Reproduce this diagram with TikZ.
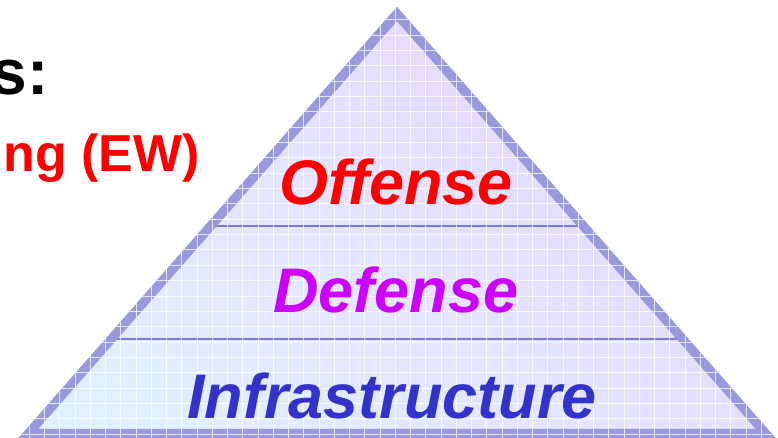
\documentclass[tikz,border=0pt]{standalone}
\usepackage{fontspec}
\setmainfont{Liberation Sans}
\usetikzlibrary{calc}
\definecolor{bandblue}{RGB}{153,153,224}
\definecolor{lineblue}{RGB}{122,122,218}
\definecolor{skyfill}{RGB}{224,240,254}
\definecolor{lilacfill}{RGB}{232,214,254}
\definecolor{offred}{RGB}{255,0,0}
\definecolor{defviolet}{RGB}{204,0,255}
\definecolor{infblue}{RGB}{51,51,204}

\begin{document}
\begin{tikzpicture}[x=1pt,y=-1pt,
  layer/.style={font=\fontsize{63}{63}\selectfont\bfseries\itshape, anchor=base, inner sep=0pt},
  heading/.style={font=\fontsize{64}{64}\selectfont\bfseries, anchor=base east, inner sep=0pt},
  gridline/.style={white, opacity=0.75, line width=0.9pt}]
  \useasboundingbox (0,0) rectangle (778,438);
  \fill[white] (0,0) rectangle (778,438);

  % pyramid corners, on the middle of the border band
  \coordinate (A) at (397,14);
  \coordinate (L) at (28,433.5);
  \coordinate (R) at (766,433.5);
  \coordinate (d1l) at ($(L)!0.4958!(A)$);
  \coordinate (d1r) at ($(R)!0.4958!(A)$);
  \coordinate (d2l) at ($(L)!0.2241!(A)$);
  \coordinate (d2r) at ($(R)!0.2241!(A)$);

  \begin{scope}
    \clip (397,6.8) -- (10.5,447) -- (783.5,447) -- cycle;
    \shade[top color=lilacfill, bottom color=skyfill, shading angle=-40] (0,0) rectangle (778,446);
    % layer borders
    \draw[lineblue, line width=2pt] (d1l) -- (d1r);
    \draw[lineblue, line width=2pt] (d2l) -- (d2r);
    \draw[bandblue, line width=9.5pt, line join=miter] (A) -- (L) -- (R) -- cycle;
    % grid
    \foreach \gx in {0,...,51}
      \draw[gridline] ({-1.25+\gx*15.25},0) -- ++(0,446);
    \foreach \gy in {0,...,28}
      \draw[gridline] (0,{4.3+\gy*15.35}) -- ++(778,0);
  \end{scope}

  \node[layer, offred] (offense) at (396,205) {Offense};
  \node[layer, defviolet] (defense) at (396,312) {Defense};
  \node[layer, infblue] (infra) at (392,418) {Infrastructure};

  \node[heading] (title) at (49,95) {s:};
  \node[heading, red, font=\fontsize{52}{52}\selectfont\bfseries] (ew) at (200,172) {ng (EW)};
\end{tikzpicture}
\end{document}
